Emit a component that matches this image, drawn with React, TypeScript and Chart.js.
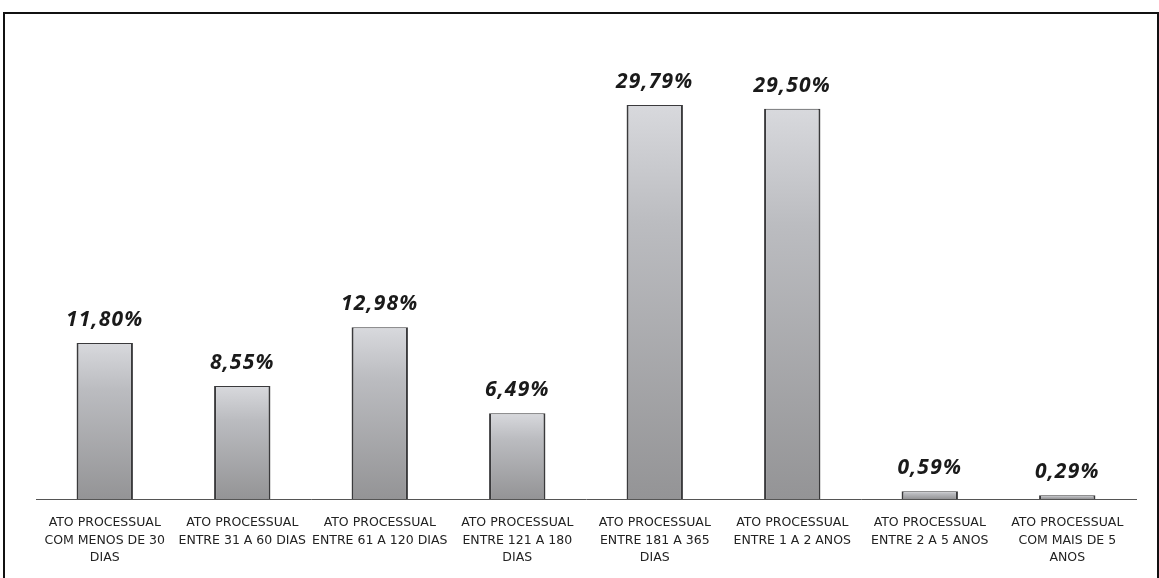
import React, { useEffect, useRef } from "react";
import { Chart, registerables } from "chart.js";

Chart.register(...registerables);

const categories: string[][] = [
  ["ATO PROCESSUAL", "COM MENOS DE 30", "DIAS"],
  ["ATO PROCESSUAL", "ENTRE 31 A 60 DIAS"],
  ["ATO PROCESSUAL", "ENTRE 61 A 120 DIAS"],
  ["ATO PROCESSUAL", "ENTRE 121 A 180", "DIAS"],
  ["ATO PROCESSUAL", "ENTRE 181 A 365", "DIAS"],
  ["ATO PROCESSUAL", "ENTRE 1 A 2 ANOS"],
  ["ATO PROCESSUAL", "ENTRE 2 A 5 ANOS"],
  ["ATO PROCESSUAL", "COM MAIS DE 5", "ANOS"],
];

const percentages: number[] = [11.8, 8.55, 12.98, 6.49, 29.79, 29.5, 0.59, 0.29];

const yMin = 0;
const yMax = 35;

const formatPct = (v: number) => v.toFixed(2).replace(".", ",") + "%";

// Draws the percentage text above each bar
const valueLabels = {
  id: "valueLabels",
  afterDatasetsDraw(chart: any) {
    const ctx = chart.ctx;
    const meta = chart.getDatasetMeta(0);
    ctx.save();
    ctx.font = "italic bold 21px 'Open Sans', sans-serif";
    (ctx as any).letterSpacing = "1.2px";
    ctx.fillStyle = "#1a1a1a";
    ctx.textAlign = "center";
    ctx.textBaseline = "middle";
    meta.data.forEach((bar: any, i: number) => {
      ctx.fillText(formatPct(percentages[i]), bar.x, bar.y - 23);
    });
    ctx.restore();
  },
};

export default function App() {
  const canvasRef = useRef<HTMLCanvasElement | null>(null);

  useEffect(() => {
    if (!canvasRef.current) return;
    const chart = new Chart(canvasRef.current, {
      type: "bar",
      data: {
        labels: categories,
        datasets: [
          {
            data: percentages,
            backgroundColor: (c: any) => {
              const ch = c.chart;
              const y = ch.scales && ch.scales.y;
              if (!y || c.raw == null) return "#b4b5b8";
              const top = y.getPixelForValue(c.raw);
              const base = y.getPixelForValue(0);
              if (!isFinite(top) || !isFinite(base) || base - top < 1) return "#c8c9cc";
              const g = ch.ctx.createLinearGradient(0, top, 0, base);
              g.addColorStop(0, "#d8d9dd");
              g.addColorStop(0.3, "#bbbcc0");
              g.addColorStop(1, "#949496");
              return g;
            },
            borderColor: "#3a3a3c",
            borderWidth: { left: 2, right: 2, top: 1, bottom: 0 },
            categoryPercentage: 1,
            barPercentage: 0.41,
          },
        ],
      },
      options: {
        animation: false,
        responsive: false,
        maintainAspectRatio: false,
        layout: { padding: { left: 36, right: 23, top: 36, bottom: 13 } },
        plugins: {
          legend: { display: false },
          tooltip: { enabled: false },
        },
        scales: {
          x: {
            grid: { display: false },
            border: { display: true, color: "#555", width: 1 },
            ticks: {
              color: "#222",
              font: { family: "'DejaVu Sans', sans-serif", size: 12.5, lineHeight: 1.4 },
              maxRotation: 0,
              autoSkip: false,
              padding: 7,
            },
            afterFit: (scale: any) => {
              scale.height = 66;
            },
          },
          y: {
            display: false,
            min: yMin,
            max: yMax,
          },
        },
      },
      plugins: [valueLabels],
    });
    return () => chart.destroy();
  }, []);

  return (
    <div style={{ position: "fixed", left: 0, top: 0, width: 1159, height: 578, background: "#fff", overflow: "hidden" }}>
      <div
        style={{
          position: "absolute",
          left: 3,
          top: 12,
          width: 1152,
          height: 600,
          border: "2px solid #111",
        }}
      />
      <canvas
        ref={canvasRef}
        width={1159}
        height={578}
        style={{ position: "absolute", left: 0, top: 0, width: 1159, height: 578 }}
      />
    </div>
  );
}
